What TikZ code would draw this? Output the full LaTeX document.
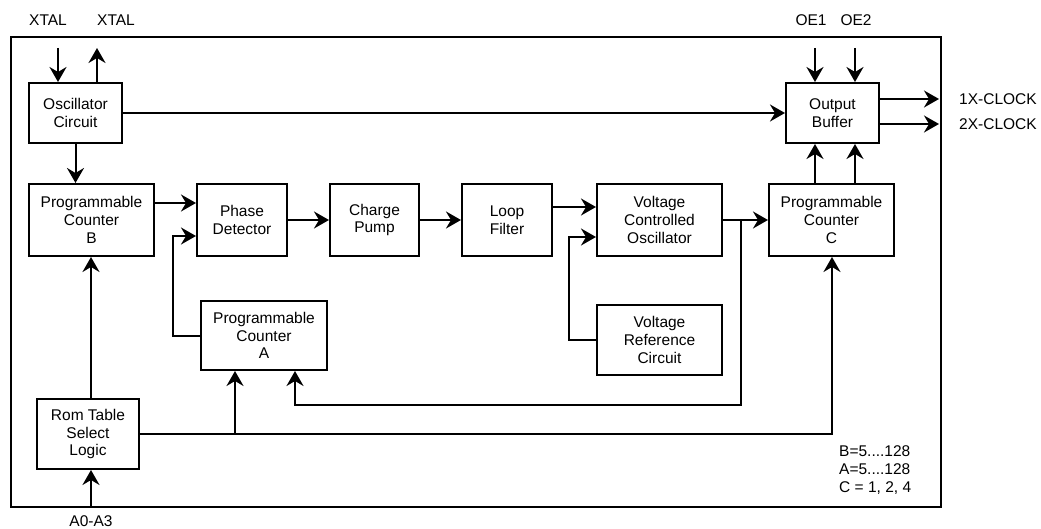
\documentclass[tikz,border=0pt]{standalone}
\usepackage{fontspec}
\setmainfont{Liberation Sans}
\usetikzlibrary{arrows.meta}
\begin{document}
\begin{tikzpicture}[x=1pt,y=-1pt,
  blk/.style={draw,line width=2pt,rectangle,inner sep=0pt,align=center,
    font=\fontsize{15.5}{17.7}\selectfont},
  lbl/.style={inner sep=0pt,font=\fontsize{15.5}{18}\selectfont},
  wire/.style={line width=2pt},
  arr/.style={wire,-{Stealth[length=15pt,width=17pt,inset=5pt]}}]
\useasboundingbox (0,0) rectangle (1041,529);
\draw[line width=2pt] (11,37) rectangle (941,507);
% blocks
\node[blk,minimum width=93pt,minimum height=60pt] (Osc) at (75.5,113) {Oscillator\\Circuit};
\node[blk,minimum width=125pt,minimum height=72pt] (PCB) at (91.5,220) {Programmable\\Counter\\B};
\node[blk,minimum width=90pt,minimum height=72pt] (PD) at (242,220) {Phase\\Detector};
\node[blk,minimum width=89pt,minimum height=72pt] (CP) at (374.5,220) {Charge\\Pump};
\node[blk,minimum width=90pt,minimum height=72pt] (LF) at (507,220) {Loop\\Filter};
\node[blk,minimum width=125pt,minimum height=72pt] (VCO) at (659.5,220) {Voltage\\Controlled\\Oscillator};
\node[blk,minimum width=125pt,minimum height=70pt] (VRC) at (659.5,340) {Voltage\\Reference\\Circuit};
\node[blk,minimum width=126pt,minimum height=69pt] (PCA) at (264,335.5) {Programmable\\Counter\\A};
\node[blk,minimum width=102pt,minimum height=70pt] (Rom) at (88,434) {Rom Table\\Select\\Logic};
\node[blk,minimum width=125pt,minimum height=72pt] (PCC) at (831.5,220) {Programmable\\Counter\\C};
\node[blk,minimum width=93pt,minimum height=60pt] (OB) at (832.5,113) {Output\\Buffer};
% labels
\node[lbl] (x1) at (48,20) {XTAL};
\node[lbl] (x2) at (116,20) {XTAL};
\node[lbl] (oe1) at (811,20) {OE1};
\node[lbl] (oe2) at (856,20) {OE2};
\node[lbl,anchor=west] (c1) at (959,99) {1X-CLOCK};
\node[lbl,anchor=west] (c2) at (959,124) {2X-CLOCK};
\node[lbl] (a03) at (91,521.5) {A0-A3};
\node[lbl,anchor=west,align=left] (note) at (839,470) {B=5....128\\A=5....128\\C = 1, 2, 4};
% free ends
\coordinate (xin) at (58,48);
\coordinate (xout) at (97,48);
\coordinate (oein1) at (815,48);
\coordinate (oein2) at (855,48);
\coordinate (o1) at (939,99);
\coordinate (o2) at (939,124);
\coordinate (ain) at (91,507);
\coordinate (br1) at (741,220);
\coordinate (br2) at (235,434);
% connectors
\draw[arr] (xin) -- (xin |- Osc.north);
\draw[arr] (xout |- Osc.north) -- (xout);
\draw[arr] (Osc.east) -- (OB.west);
\draw[arr] (Osc.south) -- (Osc.south |- PCB.north);
\draw[arr] (PCB.east |- 0,203) -- (PD.west |- 0,203);
\draw[arr] (PD.east) -- (CP.west);
\draw[arr] (CP.east) -- (LF.west);
\draw[arr] (LF.east |- 0,207) -- (VCO.west |- 0,207);
\draw[arr] (VCO.east) -- (PCC.west);
\draw[arr] (br1) -- (741,405) -- (295,405) -- (PCA.south -| 295,0);
\draw[arr] (VRC.west) -- (569,340) -- (569,237) -- (VCO.west |- 0,237);
\draw[arr] (PCA.west) -- (173,335.5) -- (173,236) -- (PD.west |- 0,236);
\draw[arr] (Rom.north -| ain) -- (PCB.south -| ain);
\draw[arr] (ain) -- (Rom.south -| ain);
\draw[arr] (Rom.east) -- (832,434) -- (PCC.south -| 832,0);
\draw[arr] (br2) -- (PCA.south -| br2);
\draw[arr] (PCC.north -| oein1) -- (OB.south -| oein1);
\draw[arr] (PCC.north -| oein2) -- (OB.south -| oein2);
\draw[arr] (oein1) -- (OB.north -| oein1);
\draw[arr] (oein2) -- (OB.north -| oein2);
\draw[arr] (OB.east |- o1) -- (o1);
\draw[arr] (OB.east |- o2) -- (o2);
\end{tikzpicture}
\end{document}
